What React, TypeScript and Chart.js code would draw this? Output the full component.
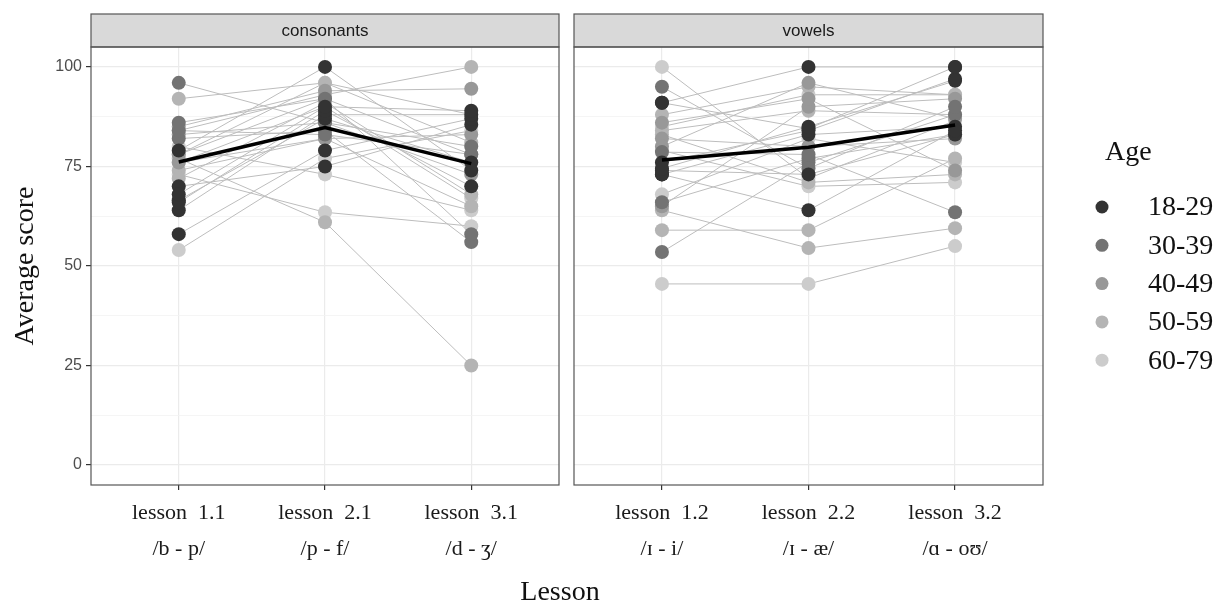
import React, { useEffect, useRef } from 'react';
import { Chart, registerables } from 'chart.js';

Chart.register(...registerables);

// ---------- data ----------
const ageGroups = ['18-29', '30-39', '40-49', '50-59', '60-79'];
const ageColors = ['#333333', '#737373', '#989898', '#b4b4b4', '#cccccc'];

const facetNames = ['consonants', 'vowels'];
const consLessons = [['lesson  1.1', '/b - p/'], ['lesson  2.1', '/p - f/'], ['lesson  3.1', '/d - ʒ/']];
const vowLessons = [['lesson  1.2', '/ɪ - i/'], ['lesson  2.2', '/ɪ - æ/'], ['lesson  3.2', '/ɑ - oʊ/']];

const yTicks = [0, 25, 50, 75, 100];
const yMinor = [12.5, 37.5, 62.5, 87.5];

// age group index of each participant
const participantAge = [0, 0, 0, 0, 0, 0, 0, 1, 1, 1, 1, 2, 2, 2, 2, 3, 3, 3, 3, 3, 4, 4, 4, 4, 4];

// consonant lessons 1.1, 2.1, 3.1
const consScores = [
  [79, 100, 74], [68, 90, 89], [66, 89, 70], [64, 88, 88], [58, 79, 87], [66.5, 87, 76], [70, 75, 85.5],
  [96, 86, 80], [86, 92, 58], [84, 83, 78], [82, 84, 56],
  [85, 94, 94.5], [83, 86, 73], [76, 82, 83], [78, 92, 78],
  [92, 96, 81], [84, 93, 100], [77, 61, 25], [72, 91, 68], [74, 82, 65],
  [54, 77, 84], [78, 96, 88], [76, 90, 67], [73, 63.5, 60], [80, 73, 64],
];

// vowel lessons 1.2, 2.2, 3.2
const vowScores = [
  [91, 100, 100], [74.5, 85, 96.5], [73, 64, 84], [76, 84, 97], [74, 73, 83], [91, 84.5, 100], [73, 83, 85],
  [95, 74.5, 90], [78.6, 78, 63.5], [66, 77, 83], [53.5, 76, 88],
  [86, 92, 74], [80, 96, 87], [65, 90, 92], [82, 80, 82],
  [88, 95, 93], [84, 89, 88], [64, 54.5, 59.5], [59, 59, 77], [83, 71, 73],
  [100, 72, 86.5], [85, 93, 93], [68, 82, 76], [45.5, 45.5, 55], [79, 70, 71],
];

const consMean = [76.1, 84.8, 75.7];
const vowMean = [76.6, 79.8, 85.4];

// ---------- layout constants ----------
const STRIP_TOP = 14;
const LEFT_W = 566;
const H = 608;
const SERIF = "'Liberation Serif', 'DejaVu Serif', serif";
const SANS = "'Liberation Sans', Arial, sans-serif";

const facetPlugin = {
  id: 'facet',
  afterDraw(chart: any, _args: any, opts: any) {
    const { ctx, chartArea: a } = chart;
    ctx.save();
    ctx.fillStyle = '#d9d9d9';
    ctx.fillRect(a.left, STRIP_TOP, a.right - a.left, a.top - STRIP_TOP);
    ctx.strokeStyle = '#555555';
    ctx.lineWidth = 1.2;
    ctx.strokeRect(a.left, STRIP_TOP, a.right - a.left, a.top - STRIP_TOP);
    ctx.strokeRect(a.left, a.top, a.right - a.left, a.bottom - a.top);
    ctx.fillStyle = '#1a1a1a';
    ctx.font = `17px ${SANS}`;
    ctx.textAlign = 'center';
    ctx.textBaseline = 'middle';
    ctx.fillText(opts.label, (a.left + a.right) / 2, (STRIP_TOP + a.top) / 2 + 1);
    ctx.restore();
  },
};

const ageLegendPlugin = {
  id: 'ageLegend',
  afterDraw(chart: any, _args: any, opts: any) {
    if (!opts.show) return;
    const { ctx } = chart;
    const x0 = 1102 - LEFT_W;
    ctx.save();
    ctx.fillStyle = '#111111';
    ctx.font = `28px ${SERIF}`;
    ctx.textAlign = 'left';
    ctx.textBaseline = 'middle';
    ctx.fillText('Age', x0 + 3, 153);
    ageGroups.forEach((g, i) => {
      const y = 207 + i * 38.3;
      ctx.beginPath();
      ctx.arc(x0, y, 6.5, 0, Math.PI * 2);
      ctx.fillStyle = ageColors[i];
      ctx.fill();
      ctx.fillStyle = '#111111';
      ctx.fillText(g, x0 + 46, y + 1);
    });
    ctx.restore();
  },
};

function makeConfig(scores: number[][], mean: number[], labels: string[][], facet: string, isLeft: boolean): any {
  const toPts = (arr: number[]) => arr.map((v, j) => ({ x: j + 1, y: v }));
  const lines = scores.map((s) => ({
    type: 'line',
    data: toPts(s),
    borderColor: '#bdbdbd',
    borderWidth: 1,
    pointRadius: 0,
    tension: 0,
    order: 3,
  }));
  const points = scores.map((s, i) => ({
    type: 'scatter',
    data: toPts(s),
    backgroundColor: ageColors[participantAge[i]],
    borderWidth: 0,
    pointRadius: 7,
    pointHoverRadius: 7,
    showLine: false,
    order: 2,
  }));
  const meanDs = {
    type: 'line',
    data: toPts(mean),
    borderColor: '#000000',
    borderWidth: 3.5,
    pointRadius: 0,
    tension: 0,
    order: 1,
  };
  const isMajor = (v: number) => yTicks.includes(v);
  return {
    type: 'line',
    data: { datasets: [meanDs, ...points, ...lines] },
    plugins: [facetPlugin, ageLegendPlugin],
    options: {
      animation: false,
      responsive: true,
      maintainAspectRatio: false,
      events: [],
      layout: {
        padding: isLeft ? { left: 0, right: 6, top: 47, bottom: 0 } : { left: 8, right: 182, top: 47, bottom: 0 },
      },
      plugins: {
        legend: { display: false },
        tooltip: { enabled: false },
        facet: { label: facet },
        ageLegend: { show: !isLeft },
      },
      scales: {
        x: {
          type: 'linear',
          min: 0.4,
          max: 3.6,
          afterBuildTicks: (s: any) => {
            s.ticks = [1, 2, 3].map((v) => ({ value: v }));
          },
          afterFit: (s: any) => {
            s.height = H - 485;
          },
          ticks: {
            callback: (v: any) => labels[Math.round(Number(v)) - 1],
            font: { family: SERIF, size: 22, lineHeight: 1.64 },
            color: '#1a1a1a',
            padding: 5,
            maxRotation: 0,
            autoSkip: false,
          },
          grid: { color: '#ebebeb', lineWidth: 1.2, tickLength: 5, tickColor: '#333333', drawTicks: true },
          border: { display: false },
        },
        y: {
          type: 'linear',
          min: -5,
          max: 105,
          afterBuildTicks: (s: any) => {
            s.ticks = [...yTicks, ...yMinor].sort((a, b) => a - b).map((v) => ({ value: v }));
          },
          afterFit: (s: any) => {
            s.width = isLeft ? 91 : 0;
          },
          ticks: {
            display: isLeft,
            autoSkip: false,
            callback: (v: any) => (isMajor(Number(v)) ? String(v) : ''),
            font: { family: SANS, size: 16 },
            color: '#4d4d4d',
            padding: 4,
          },
          grid: {
            drawTicks: isLeft,
            tickLength: 5,
            color: (c: any) => (c.tick && isMajor(c.tick.value) ? '#ebebeb' : '#f3f3f3'),
            lineWidth: (c: any) => (c.tick && isMajor(c.tick.value) ? 1.2 : 0.8),
            tickColor: (c: any) => (c.tick && isMajor(c.tick.value) ? '#333333' : 'rgba(0,0,0,0)'),
          },
          border: { display: false },
          title: {
            display: isLeft,
            text: 'Average score',
            font: { family: SERIF, size: 28 },
            color: '#111111',
            padding: { top: 9, bottom: 0 },
          },
        },
      },
    },
  };
}

export default function App() {
  const leftRef = useRef<HTMLCanvasElement>(null);
  const rightRef = useRef<HTMLCanvasElement>(null);

  useEffect(() => {
    const c1 = new Chart(leftRef.current as HTMLCanvasElement, makeConfig(consScores, consMean, consLessons, facetNames[0], true));
    const c2 = new Chart(rightRef.current as HTMLCanvasElement, makeConfig(vowScores, vowMean, vowLessons, facetNames[1], false));
    return () => {
      c1.destroy();
      c2.destroy();
    };
  }, []);

  return (
    <div style={{ position: 'absolute', left: 0, top: 0, width: 1225, height: H, background: '#ffffff', overflow: 'hidden' }}>
      <div style={{ position: 'absolute', left: 0, top: 0, width: LEFT_W, height: H }}>
        <canvas ref={leftRef} />
      </div>
      <div style={{ position: 'absolute', left: LEFT_W, top: 0, width: 1225 - LEFT_W, height: H }}>
        <canvas ref={rightRef} />
      </div>
      <div
        style={{
          position: 'absolute',
          left: 410,
          top: 574,
          width: 300,
          textAlign: 'center',
          fontFamily: SERIF,
          fontSize: 28,
          lineHeight: '34px',
          color: '#111111',
        }}
      >
        Lesson
      </div>
    </div>
  );
}
